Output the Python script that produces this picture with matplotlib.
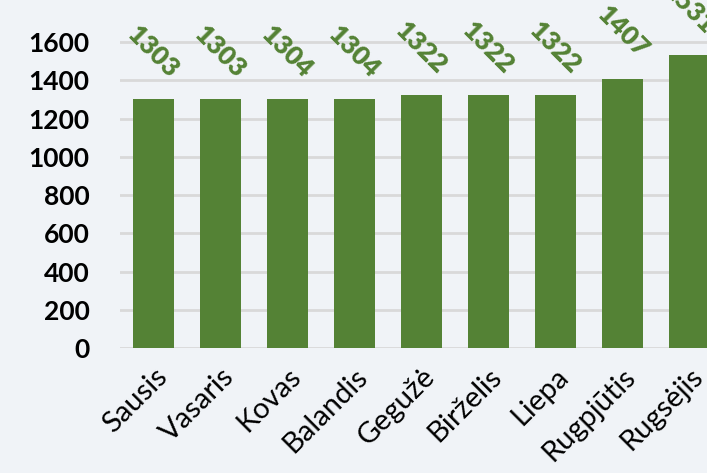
import matplotlib.pyplot as plt

months = ['Sausis', 'Vasaris', 'Kovas', 'Balandis', 'Gegužė', 'Birželis',
          'Liepa', 'Rugpjūtis', 'Rugsėjis']
values = [1303, 1303, 1304, 1304, 1322, 1322, 1322, 1407, 1531]
y_ticks = [0, 200, 400, 600, 800, 1000, 1200, 1400, 1600]

bg = '#F0F3F7'
green = '#548235'

plt.rcParams['font.family'] = ['Lato', 'DejaVu Sans']

fig = plt.figure(figsize=(7.07, 4.73), dpi=100, facecolor=bg)
# the picture is a crop: axes run past the right edge
ax = fig.add_axes([120 / 707, 125 / 473, 603 / 707, 344 / 473])
ax.set_facecolor(bg)

x = list(range(len(months)))
bars = ax.bar(x, values, width=0.61, color=green, zorder=3)

for xi, v in zip(x, values):
    ax.annotate(str(v), (xi, v), xytext=(0, 34), textcoords='offset points',
                ha='center', va='center', rotation=-45, color=green,
                fontsize=19, fontweight='heavy', annotation_clip=False)

ax.set_xlim(-0.5, len(months) - 0.5)
ax.set_ylim(0, 1800)
ax.set_yticks(y_ticks)
ax.set_yticklabels([str(t) for t in y_ticks], fontsize=19, fontweight='bold')
ax.set_xticks(x)
ax.set_xticklabels(months, rotation=45, ha='right', va='top',
                   rotation_mode='anchor', fontsize=21)
ax.tick_params(axis='both', length=0)
ax.tick_params(axis='y', pad=22)
ax.tick_params(axis='x', pad=11)

ax.grid(axis='y', color='#D9D9D9', linewidth=2, zorder=0)
ax.grid(axis='x', visible=False)
for s in ax.spines.values():
    s.set_visible(False)

fig.savefig('out.png', dpi=100, facecolor=bg)
